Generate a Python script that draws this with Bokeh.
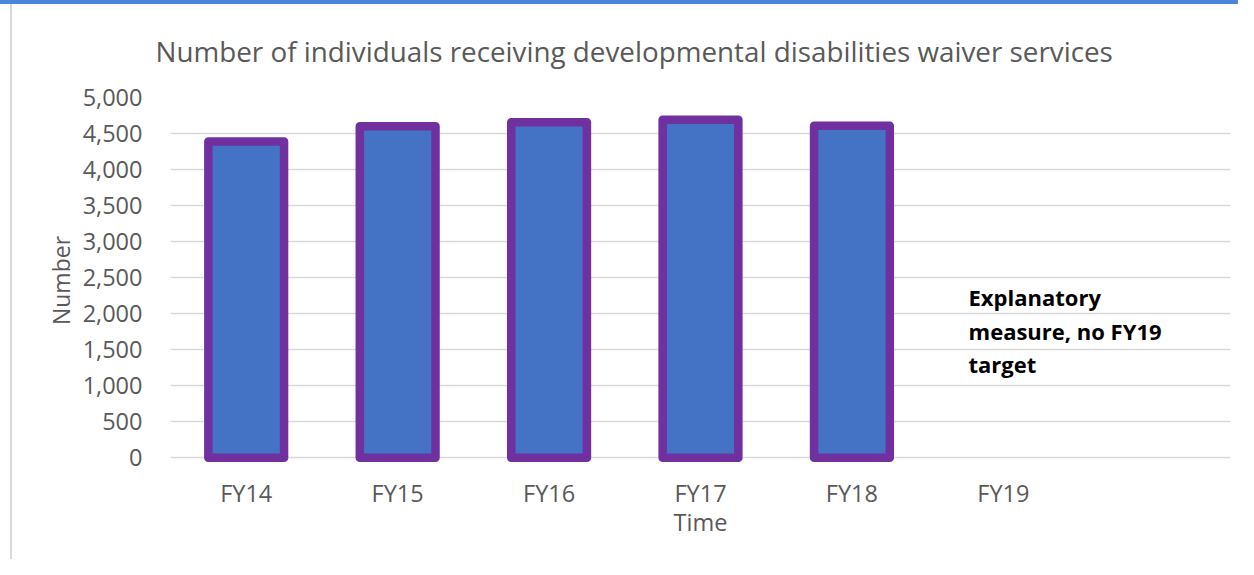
from bokeh.plotting import figure
from bokeh.models import FactorRange, Range1d, FixedTicker, NumeralTickFormatter, Label, Title
from bokeh.embed import file_html
from bokeh.resources import INLINE

# ---- data ----
categories = ["FY14", "FY15", "FY16", "FY17", "FY18", "FY19", " "]
bar_categories = ["FY14", "FY15", "FY16", "FY17", "FY18"]
values = [4390, 4600, 4655, 4690, 4608]
y_ticks = [0, 500, 1000, 1500, 2000, 2500, 3000, 3500, 4000, 4500, 5000]
title_text = "Number of individuals receiving developmental disabilities waiver services"
note_lines = ["Explanatory", "measure, no FY19", "target"]

FONT = "Open Sans"
TXT = "#595959"

p = figure(
    x_range=FactorRange(*categories, range_padding=0, factor_padding=0),
    y_range=Range1d(-80, 5000),
    width=1238, height=559,
    output_backend="svg", toolbar_location=None,
    min_border_left=170, min_border_right=8,
    min_border_top=93, min_border_bottom=100,
)
p.outline_line_color = None
p.background_fill_color = "white"
p.border_fill_color = None
p.styles = {
    "border-top": "4px solid #4A86DA",
    "background": "linear-gradient(to right, white 10px, #D9D9D9 10px, #D9D9D9 12px, white 12px)",
}

t = Title(text=title_text, align="left", offset=-15, standoff=52,
          vertical_align="top",
          text_font=FONT, text_font_size="27.8px", text_font_style="normal",
          text_color=TXT)
p.add_layout(t, "above")

p.vbar(x=bar_categories, top=values, width=0.5, bottom=0,
       fill_color="#4472C4", line_color="#7030A0", line_width=8.5,
       line_join="round")

# axes
p.xaxis.axis_line_color = None
p.xaxis.major_tick_line_color = None
p.xaxis.minor_tick_line_color = None
p.xaxis.major_label_text_font = FONT
p.xaxis.major_label_text_font_size = "23.5px"
p.xaxis.major_label_text_color = TXT
p.xaxis.major_label_standoff = 7
p.xaxis.axis_label = "Time"
p.xaxis.axis_label_text_font = FONT
p.xaxis.axis_label_text_font_size = "23.5px"
p.xaxis.axis_label_text_font_style = "normal"
p.xaxis.axis_label_text_color = TXT
p.xaxis.axis_label_standoff = -6

p.yaxis.ticker = FixedTicker(ticks=y_ticks)
p.yaxis.formatter = NumeralTickFormatter(format="0,0")
p.yaxis.axis_line_color = None
p.yaxis.major_tick_line_color = None
p.yaxis.minor_tick_line_color = None
p.yaxis.major_label_text_font = FONT
p.yaxis.major_label_text_font_size = "23.5px"
p.yaxis.major_label_text_color = TXT
p.yaxis.major_label_standoff = 22
p.yaxis.axis_label = "Number"
p.yaxis.axis_label_text_font = FONT
p.yaxis.axis_label_text_font_size = "23px"
p.yaxis.axis_label_text_font_style = "normal"
p.yaxis.axis_label_text_color = TXT
p.yaxis.axis_label_standoff = 3

p.xgrid.grid_line_color = None
p.ygrid.grid_line_color = "#D9D9D9"
p.ygrid.grid_line_width = 1.5
p.ygrid.ticker = FixedTicker(ticks=y_ticks)

# note
for txt, yy in zip(note_lines, [2230, 1760, 1300]):
    p.add_layout(Label(x=5.27, y=yy, text=txt, text_align="left",
                       text_baseline="alphabetic", text_font=FONT,
                       text_font_size="22px", text_font_style="bold",
                       text_color="black"))

open("out.html", "w").write(file_html(p, INLINE))
